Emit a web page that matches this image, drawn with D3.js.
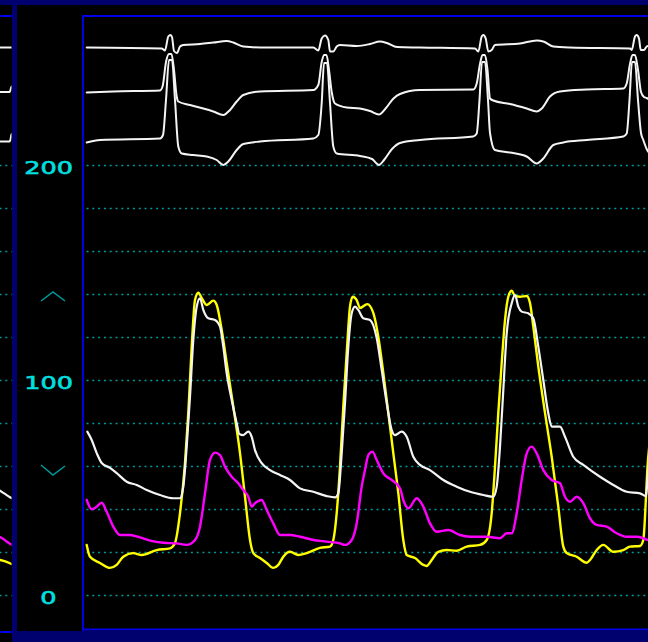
<!DOCTYPE html>
<html><head><meta charset="utf-8">
<script src="https://cdn.jsdelivr.net/npm/d3@7/dist/d3.min.js"></script>
<style>html,body{margin:0;padding:0;background:#000;overflow:hidden}svg{display:block}</style>
</head><body><svg id="c" width="648" height="642"></svg>
<script>
// ---------- data (time in ms, pressure in mmHg, ECG in mV) ----------
const gridValues = [0, 20, 40, 60, 80, 100, 120, 140, 160, 180, 200];
const labelValues = [0, 100, 200];
const alarmHigh = 140;
const alarmLow = 60;

const yellowTrace = [[27,23.3],[60,17.8],[160,14.9],[260,12.6],[327,14.0],[393,17.8],[493,19.5],[577,18.6],[727,20.9],[860,21.7],[910,24.2],[960,38.1],[1010,61.4],[1043,84.7],[1077,115.5],[1110,137.2],[1143,140.6],[1177,138.1],[1227,134.9],[1293,136.9],[1327,134.9],[1377,123.3],[1427,107.9],[1493,87.6],[1560,66.0],[1610,45.7],[1660,25.6],[1693,19.5],[1760,17.2],[1827,14.9],[1893,12.6],[1943,14.0],[1993,17.8],[2060,20.1],[2143,18.6],[2227,19.5],[2360,21.9],[2460,22.5],[2493,25.6],[2527,38.1],[2560,59.7],[2593,87.6],[2627,112.6],[2660,134.1],[2687,138.7],[2727,137.2],[2760,133.5],[2833,135.3],[2893,131.2],[2943,120.1],[2993,103.3],[3043,84.7],[3093,66.0],[3143,47.4],[3193,25.6],[3227,18.6],[3310,17.2],[3393,14.0],[3427,13.5],[3477,16.3],[3543,20.1],[3627,20.9],[3727,20.6],[3827,22.5],[3960,23.3],[4027,25.6],[4077,38.1],[4110,59.7],[4143,84.7],[4177,107.9],[4210,127.9],[4243,138.7],[4277,141.5],[4310,139.1],[4360,138.7],[4427,139.1],[4460,135.8],[4493,124.8],[4543,106.2],[4610,84.7],[4677,64.3],[4743,41.1],[4793,22.5],[4827,19.5],[4927,17.8],[5027,15.0],[5060,16.3],[5127,20.9],[5193,23.3],[5293,20.1],[5393,20.9],[5460,22.5],[5560,22.8],[5593,25.6],[5620,45.7],[5633,58.1],[5660,72.1]];

const whiteTrace = [[33,76.0],[77,72.1],[127,66.0],[177,61.4],[260,59.1],[327,56.7],[427,52.7],[527,51.2],[627,48.8],[760,46.5],[893,45.0],[960,45.0],[993,50.4],[1027,69.0],[1060,92.2],[1093,118.6],[1127,134.1],[1160,138.0],[1193,132.6],[1243,128.7],[1310,127.9],[1360,124.8],[1393,115.5],[1427,103.1],[1477,90.7],[1527,79.9],[1553,74.9],[1593,74.4],[1643,76.0],[1677,73.6],[1710,67.4],[1777,61.3],[1860,58.1],[1960,55.8],[2060,53.5],[2160,49.6],[2293,48.0],[2427,46.0],[2510,45.4],[2543,47.3],[2577,66.0],[2610,89.3],[2643,115.5],[2677,131.0],[2710,134.1],[2743,132.6],[2793,128.7],[2860,127.9],[2927,119.5],[2977,104.7],[3027,89.3],[3077,76.7],[3110,74.4],[3177,76.0],[3227,73.6],[3293,64.3],[3360,60.5],[3460,58.1],[3593,53.5],[3727,50.4],[3860,48.0],[3993,46.5],[4093,45.7],[4127,50.4],[4160,69.0],[4193,95.3],[4227,121.7],[4277,135.7],[4310,139.5],[4343,134.1],[4377,131.8],[4443,131.0],[4493,128.7],[4543,115.5],[4593,100.0],[4643,84.5],[4677,78.3],[4760,78.3],[4810,73.6],[4893,64.3],[4993,60.5],[5160,55.0],[5293,51.2],[5427,48.0],[5560,47.3],[5620,46.0],[5633,52.1],[5660,67.4]];

const magentaTrace = [[27,44.2],[77,39.9],[127,41.1],[177,42.9],[227,38.7],[293,31.8],[360,27.9],[460,27.9],[560,26.8],[660,25.3],[793,24.3],[927,24.0],[1027,23.3],[1110,25.6],[1160,31.8],[1210,47.3],[1260,62.8],[1310,66.2],[1360,65.1],[1410,59.7],[1477,55.0],[1543,52.0],[1593,48.8],[1643,45.7],[1677,41.1],[1710,42.7],[1777,44.2],[1827,39.5],[1893,33.3],[1960,27.9],[2060,27.9],[2160,27.1],[2293,25.6],[2427,24.8],[2560,24.0],[2610,23.3],[2677,25.6],[2727,33.3],[2777,50.4],[2810,58.1],[2843,65.1],[2885,66.7],[2927,62.8],[2993,56.6],[3077,53.5],[3160,49.6],[3193,44.2],[3243,40.3],[3327,45.0],[3393,41.1],[3460,33.3],[3527,29.4],[3643,30.2],[3760,27.9],[3860,27.1],[4027,27.1],[4160,26.4],[4227,28.7],[4277,28.7],[4327,38.0],[4377,53.5],[4427,65.9],[4477,69.0],[4527,65.9],[4593,58.1],[4677,53.5],[4760,52.0],[4810,45.7],[4860,43.4],[4927,45.7],[4993,42.7],[5060,35.7],[5127,32.6],[5227,31.8],[5327,28.7],[5427,27.1],[5527,27.1],[5633,25.6]];

const ecgI = [[27,0],[777,-0.02],[810,-0.06],[843,0.22],[865,0.25],[880,0.21],[900,-0.07],[930,-0.11],[960,0.02],[993,0.05],[1160,0.07],[1293,0.10],[1427,0.13],[1493,0.10],[1593,0.02],[1760,0],[2293,0],[2343,-0.06],[2377,0.18],[2410,0.24],[2443,0.15],[2460,-0.08],[2493,-0.08],[2527,0.02],[2560,0.05],[2727,0.03],[2860,0.07],[2960,0.12],[3030,0.09],[3130,0.01],[3360,0],[3910,-0.02],[3943,-0.08],[3977,0.22],[3993,0.25],[4017,0.18],[4043,-0.08],[4077,-0.05],[4110,0.05],[4360,0.08],[4527,0.14],[4593,0.12],[4693,0.02],[4860,0],[5460,-0.02],[5477,-0.05],[5510,0.22],[5527,0.25],[5550,0.18],[5567,-0.05],[5600,-0.05],[5627,0.02],[5660,0.04]];

const ecgII = [[27,-0.02],[293,0],[760,0.02],[787,0.11],[820,0.59],[850,0.75],[875,0.75],[900,0.43],[927,-0.10],[943,-0.20],[1060,-0.27],[1193,-0.34],[1293,-0.40],[1393,-0.47],[1460,-0.37],[1527,-0.20],[1593,-0.07],[1760,0],[2293,0.03],[2343,0.13],[2377,0.59],[2400,0.73],[2425,0.73],[2450,0.43],[2477,-0.01],[2510,-0.24],[2627,-0.32],[2760,-0.34],[2860,-0.39],[2950,-0.46],[3020,-0.33],[3090,-0.15],[3160,-0.05],[3360,0.03],[3893,0.04],[3927,0.16],[3960,0.55],[3985,0.73],[4010,0.73],[4035,0.43],[4060,-0.14],[4093,-0.18],[4260,-0.25],[4427,-0.34],[4527,-0.40],[4577,-0.34],[4660,-0.10],[4760,0],[5027,0.04],[5393,0.06],[5427,0.16],[5460,0.55],[5485,0.73],[5510,0.73],[5540,0.43],[5570,-0.01],[5600,-0.11],[5627,-0.13],[5660,-0.17]];

const ecgIII = [[27,-0.04],[160,0.01],[760,0.04],[790,0.11],[820,0.81],[850,1.61],[880,1.61],[910,0.81],[943,-0.12],[977,-0.26],[1093,-0.29],[1227,-0.32],[1327,-0.39],[1393,-0.49],[1443,-0.42],[1527,-0.19],[1593,-0.07],[1760,-0.02],[2293,0.04],[2343,0.11],[2377,0.75],[2400,1.55],[2430,1.55],[2460,0.75],[2493,-0.12],[2527,-0.26],[2760,-0.31],[2880,-0.37],[2950,-0.49],[3000,-0.39],[3080,-0.17],[3160,-0.05],[3360,0.01],[3893,0.08],[3927,0.14],[3955,0.81],[3980,1.57],[4010,1.57],[4040,0.81],[4060,0.15],[4110,-0.19],[4260,-0.24],[4427,-0.32],[4527,-0.46],[4593,-0.36],[4693,-0.09],[4793,-0.04],[5027,0.01],[5393,0.08],[5427,0.14],[5455,0.81],[5480,1.57],[5510,1.57],[5540,0.81],[5570,0.15],[5593,0.01],[5640,-0.22],[5660,-0.25]];

// tail of the previous sweep, seen in the narrow left panel
const prevEcgI = [[0,0],[120,0]];
const prevEcgII = [[0,-0.01],[95,-0.01],[105,0.03],[115,0.10],[120,0.10]];
const prevEcgIII = [[0,-0.02],[95,-0.02],[105,0.02],[115,0.12],[120,0.13]];
const prevWhite = [[0,48.5],[50,47.0],[100,45.5],[120,45.0]];
const prevMagenta = [[0,27.0],[50,25.5],[100,23.8],[120,23.3]];
const prevYellow = [[0,16.3],[60,15.5],[120,14.3]];

// ---------- layout ----------
const svg = d3.select("#c");
const NAVY = "#00006e", BLUE = "#0000e6", GRID = "#009a9a", LABEL = "#00e0e0";
const main = {x0: 84, x1: 648, y0: 17, y1: 628};
const left = {x0: 0, x1: 11.5};

const x = d3.scaleLinear().domain([0, 5640]).range([main.x0, main.x1]);
const xPrev = d3.scaleLinear().domain([0, 120]).range([0, 12]);
const y = d3.scaleLinear().domain([0, 200]).range([595, 165]);
const ecgBase = [47.5, 91.5, 140.5];
const ecgY = ecgBase.map(b => d3.scaleLinear().domain([0, 1]).range([b, b - 50]));

svg.append("rect").attr("width", 648).attr("height", 642).attr("fill", "#000");

const defs = svg.append("defs");
defs.append("clipPath").attr("id", "clipMain").append("rect")
  .attr("x", main.x0).attr("y", main.y0).attr("width", main.x1 - main.x0).attr("height", main.y1 - main.y0);
defs.append("clipPath").attr("id", "clipLeft").append("rect")
  .attr("x", left.x0).attr("y", 17).attr("width", left.x1 - left.x0).attr("height", 614);

// grid lines
function grid(g, xa, xb, offset) {
  g.selectAll("line.g").data(gridValues).join("line").attr("class", "g")
    .attr("x1", xa).attr("x2", xb)
    .attr("y1", d => y(d) + 0.5).attr("y2", d => y(d) + 0.5)
    .attr("stroke", GRID).attr("stroke-width", 1.7)
    .attr("stroke-dasharray", "2 3.8").attr("stroke-dashoffset", offset);
}
const gMain = svg.append("g").attr("clip-path", "url(#clipMain)");
const gLeft = svg.append("g").attr("clip-path", "url(#clipLeft)");
grid(gMain, 86.5, 648, 0);
grid(gLeft, -0.5, 12, 0);

function draw(g, data, xs, ys, color, w) {
  const line = d3.line().x(d => xs(d[0])).y(d => ys(d[1])).curve(d3.curveMonotoneX);
  g.append("path").datum(data).attr("d", line)
    .attr("fill", "none").attr("stroke", color).attr("stroke-width", w)
    .attr("stroke-linejoin", "round").attr("stroke-linecap", "round");
}

// ECG leads (white)
[ecgI, ecgII, ecgIII].forEach((d, i) => draw(gMain, d, x, ecgY[i], "#f4f4f4", 2));
[prevEcgI, prevEcgII, prevEcgIII].forEach((d, i) => draw(gLeft, d, xPrev, ecgY[i], "#f4f4f4", 2));

// pressure traces
draw(gMain, yellowTrace, x, y, "#ffff00", 2.4);
draw(gMain, whiteTrace, x, y, "#f4f4f4", 2.2);
draw(gMain, magentaTrace, x, y, "#ff00ff", 2.4);
draw(gLeft, prevYellow, xPrev, y, "#ffff00", 2.4);
draw(gLeft, prevWhite, xPrev, y, "#f4f4f4", 2.2);
draw(gLeft, prevMagenta, xPrev, y, "#ff00ff", 2.4);

// scale labels
svg.selectAll("text.lbl").data(labelValues).join("text").attr("class", "lbl")
  .attr("transform", d => `translate(48.5,${y(d) + 9.3}) scale(1.42,1)`)
  .attr("text-anchor", "middle")
  .attr("font-family", "DejaVu Sans, sans-serif").attr("font-size", 18)
  .attr("fill", LABEL).attr("stroke", LABEL).attr("stroke-width", 0.6)
  .text(d => d);

// alarm limit carets
svg.append("path")
  .attr("d", `M41,${y(alarmHigh) + 7}L53,${y(alarmHigh) - 2}L65,${y(alarmHigh) + 7}`)
  .attr("fill", "none").attr("stroke", GRID).attr("stroke-width", 1.5);
svg.append("path")
  .attr("d", `M41,${y(alarmLow) - 1}L53,${y(alarmLow) + 9}L65,${y(alarmLow)}`)
  .attr("fill", "none").attr("stroke", GRID).attr("stroke-width", 1.5);

// frame
const frame = svg.append("g");
frame.append("rect").attr("x", 0).attr("y", 0).attr("width", 648).attr("height", 5).attr("fill", NAVY);
frame.append("rect").attr("x", 12).attr("y", 0).attr("width", 5).attr("height", 642).attr("fill", NAVY);
frame.append("rect").attr("x", 12).attr("y", 631).attr("width", 636).attr("height", 11).attr("fill", NAVY);
frame.append("rect").attr("x", 82).attr("y", 15).attr("width", 2).attr("height", 616).attr("fill", BLUE);
frame.append("rect").attr("x", 82).attr("y", 15).attr("width", 566).attr("height", 2).attr("fill", BLUE);
frame.append("rect").attr("x", 82).attr("y", 628.5).attr("width", 566).attr("height", 2).attr("fill", BLUE);
frame.append("rect").attr("x", 0).attr("y", 15).attr("width", 12).attr("height", 2).attr("fill", BLUE);
frame.append("rect").attr("x", 0).attr("y", 631).attr("width", 12).attr("height", 2).attr("fill", BLUE);
</script>
</body></html>
